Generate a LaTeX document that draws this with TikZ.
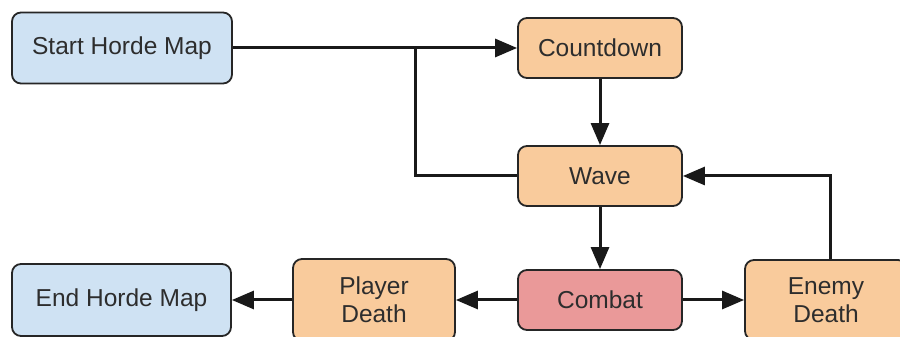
\documentclass[tikz,border=0pt]{standalone}
\usepackage{fontspec}
\setmainfont{Liberation Sans}
\usepackage{tikz}
\usetikzlibrary{arrows.meta, shapes, positioning}
\usepackage{xcolor}
\definecolor{mapblue}{RGB}{207,226,243}
\definecolor{stateorange}{RGB}{249,203,156}
\definecolor{combatred}{RGB}{234,153,153}
\definecolor{textgray}{RGB}{45,45,45}
\tikzset{bluestate/.style={rectangle, rounded corners=9pt, fill=mapblue, draw=black!85, line width=1.5pt, text=textgray, align=center},orangestate/.style={rectangle, rounded corners=9pt, fill=stateorange, draw=black!85, line width=1.5pt, text=textgray, align=center}}

\begin{document}
\begin{tikzpicture}[
        font=\fontsize{24.5}{28}\selectfont,
        bluestate/.style={rectangle, rounded corners=9pt, fill=mapblue, draw=black!85, line width=1.8pt, text=textgray, align=center, inner sep=0pt},
        orangestate/.style={rectangle, rounded corners=9pt, fill=stateorange, draw=black!85, line width=1.8pt, text=textgray, align=center, inner sep=0pt},
        redstate/.style={rectangle, rounded corners=9pt, fill=combatred, draw=black!85, line width=1.8pt, text=textgray, align=center, inner sep=0pt},
        flow/.style={line width=3pt, draw=black!90, -{Triangle[length=22pt, width=18pt]}},
        plainflow/.style={line width=3pt, draw=black!90}
    ]
        \useasboundingbox (0pt, 0pt) rectangle (900pt, 337pt);
        % States
        \node[bluestate, minimum width=220pt, minimum height=71pt] (start) at (122pt, 289pt) {Start Horde Map};
        \node[orangestate, minimum width=164pt, minimum height=60pt] (countdown) at (600pt, 289pt) {Countdown};
        \node[orangestate, minimum width=164pt, minimum height=60pt] (wave) at (600pt, 161pt) {Wave};
        \node[redstate, minimum width=164pt, minimum height=60pt] (combat) at (600pt, 37pt) {Combat};
        \node[orangestate, minimum width=162pt, minimum height=82pt] (playerdeath) at (374pt, 37pt) {Player\\Death};
        \node[orangestate, minimum width=162pt, minimum height=80pt] (enemydeath) at (826pt, 37pt) {Enemy\\Death};
        \node[bluestate, minimum width=219pt, minimum height=72pt] (end) at (121.5pt, 37pt) {End Horde Map};
        % Transitions
        \coordinate (split) at (415pt, 289pt);
        \draw[flow] (start.east) -- (countdown.west);
        \draw[plainflow] (split) |- (wave.west);
        \draw[flow] (countdown) -- (wave);
        \draw[flow] (wave) -- (combat);
        \draw[flow] (combat) -- (playerdeath);
        \draw[flow] (playerdeath) -- (end);
        \draw[flow] (combat) -- (enemydeath);
        \draw[flow] ([xshift=4pt]enemydeath.north) |- (wave.east);
    \end{tikzpicture}
\end{document}
